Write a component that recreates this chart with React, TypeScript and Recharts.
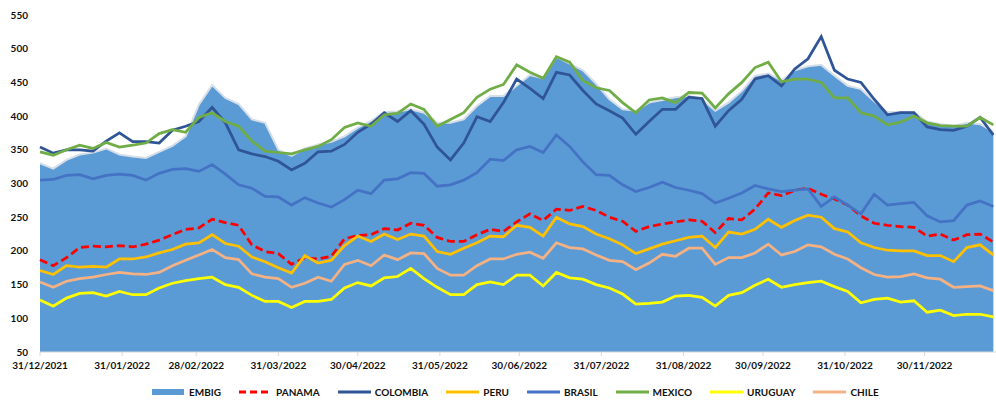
import React from 'react';
import { ComposedChart, Area, Line, XAxis, YAxis } from 'recharts';

// day offsets from 31/12/2021
const days = [
  0, 5, 10, 15, 20, 25, 30, 35, 40, 45, 50, 55, 60, 65, 70, 75, 80, 85, 90, 95,
  100, 105, 110, 115, 120, 125, 130, 135, 140, 145, 150, 155, 160, 165, 170, 175, 180, 185, 190, 195,
  200, 205, 210, 215, 220, 225, 230, 235, 240, 245, 250, 255, 260, 265, 270, 275, 280, 285, 290, 295,
  300, 305, 310, 315, 320, 325, 330, 335, 340, 345, 350, 355, 360,
];

const embig = [
  330, 322, 335, 343, 346, 352, 343, 340, 338, 347, 356, 370, 417, 446, 427, 418, 395, 390, 350, 341,
  352, 358, 362, 370, 383, 393, 406, 407, 410, 405, 390, 390, 395, 415, 430, 430, 445, 461, 456, 488,
  478, 468, 448, 425, 410, 408, 420, 424, 428, 430, 425, 408, 420, 437, 460, 463, 453, 468, 474, 476,
  460, 445, 440, 422, 406, 406, 406, 392, 388, 385, 390, 388, 377,
];
const panama = [
  187, 178, 190, 205, 207, 206, 208, 206, 210, 216, 224, 232, 234, 247, 242, 238, 209, 199, 196, 180,
  190, 188, 192, 218, 223, 224, 233, 231, 241, 238, 220, 214, 214, 224, 232, 229, 243, 255, 245, 262,
  260, 266, 260, 250, 244, 229, 236, 240, 243, 246, 244, 227, 248, 246, 262, 286, 282, 290, 293, 284,
  277, 268, 252, 241, 238, 236, 235, 222, 225, 216, 224, 225, 213,
];
const colombia = [
  354, 345, 350, 350, 348, 363, 375, 362, 362, 360, 379, 385, 392, 413, 390, 350, 344, 340, 333, 320,
  330, 347, 348, 358, 376, 388, 405, 392, 408, 388, 354, 335, 360, 399, 392, 420, 455, 441, 426, 465,
  461, 438, 418, 408, 397, 373, 392, 410, 410, 428, 426, 385, 408, 425, 455, 460, 445, 470, 485, 518,
  468, 455, 450, 425, 402, 405, 405, 384, 380, 379, 385, 398, 372,
];
const peru = [
  171, 165, 178, 176, 177, 176, 188, 188, 191, 197, 202, 210, 212, 224, 211, 207, 191, 184, 175, 167,
  193, 182, 186, 208, 222, 214, 225, 217, 225, 222, 199, 195, 204, 212, 222, 221, 238, 235, 222, 250,
  240, 236, 225, 218, 209, 196, 203, 210, 215, 220, 222, 205, 228, 225, 232, 247, 235, 245, 253, 250,
  233, 228, 212, 205, 201, 200, 200, 193, 193, 184, 205, 209, 194,
];
const brasil = [
  305, 306, 312, 313, 307, 312, 314, 312, 305, 315, 321, 322, 318, 328, 314, 298, 293, 281, 280, 268,
  279, 271, 265, 276, 290, 285, 305, 307, 316, 315, 296, 298, 305, 316, 336, 334, 350, 355, 346, 372,
  355, 332, 313, 312, 298, 288, 294, 302, 294, 290, 285, 271, 278, 286, 297, 292, 288, 290, 292, 266,
  280, 268, 255, 284, 268, 270, 272, 252, 243, 245, 268, 274, 266,
];
const mexico = [
  347, 342, 350, 357, 352, 361, 354, 357, 360, 374, 380, 376, 398, 405, 392, 385, 363, 348, 346, 344,
  350, 355, 365, 383, 390, 385, 402, 404, 418, 410, 385, 395, 405, 428, 440, 447, 476, 465, 456, 488,
  480, 453, 442, 438, 420, 405, 424, 427, 420, 435, 434, 412, 433, 450, 472, 480, 451, 455, 455, 450,
  427, 427, 405, 400, 387, 391, 400, 390, 386, 385, 385, 398, 387,
];
const uruguay = [
  127, 118, 130, 137, 138, 133, 140, 135, 135, 145, 152, 156, 159, 161, 150, 146, 134, 125, 125, 116,
  125, 125, 128, 145, 153, 148, 160, 162, 174, 159, 146, 135, 135, 150, 154, 150, 164, 164, 148, 168,
  160, 158, 150, 145, 136, 121, 122, 124, 133, 134, 131, 118, 134, 138, 149, 158, 146, 150, 153, 155,
  147, 140, 123, 128, 130, 124, 126, 109, 112, 104, 106, 106, 102,
];
const chile = [
  154, 146, 155, 159, 161, 165, 168, 166, 165, 168, 178, 186, 194, 202, 190, 187, 166, 161, 159, 146,
  152, 161, 155, 180, 186, 178, 194, 187, 197, 196, 174, 164, 164, 178, 188, 188, 195, 198, 189, 212,
  205, 203, 194, 186, 184, 172, 182, 195, 192, 204, 204, 180, 190, 190, 197, 210, 194, 199, 209, 206,
  195, 188, 175, 165, 161, 162, 166, 160, 158, 146, 147, 148, 141,
];

const tickDays = [0, 31, 59, 90, 120, 151, 181, 212, 243, 273, 304, 334];
const tickLabels = [
  '31/12/2021', '31/01/2022', '28/02/2022', '31/03/2022', '30/04/2022', '31/05/2022',
  '30/06/2022', '31/07/2022', '31/08/2022', '30/09/2022', '31/10/2022', '30/11/2022',
];
const yTicks = [50, 100, 150, 200, 250, 300, 350, 400, 450, 500, 550];

const data = days.map((day, i) => ({
  day,
  EMBIG: embig[i],
  PANAMA: panama[i],
  COLOMBIA: colombia[i],
  PERU: peru[i],
  BRASIL: brasil[i],
  MEXICO: mexico[i],
  URUGUAY: uruguay[i],
  CHILE: chile[i],
}));

const lines = [
  { key: 'PANAMA', color: '#FF0000', dash: '8 4' },
  { key: 'COLOMBIA', color: '#2F5597' },
  { key: 'PERU', color: '#FFC000' },
  { key: 'BRASIL', color: '#4472C4' },
  { key: 'MEXICO', color: '#70AD47' },
  { key: 'URUGUAY', color: '#FFFF00' },
  { key: 'CHILE', color: '#F4B183' },
];

const font = 'Lato, "Open Sans", sans-serif';
const tickStyle = { fontSize: 10, fontWeight: 700, fill: '#111', fontFamily: font };

function LegendRow() {
  return (
    <div
      style={{
        position: 'absolute',
        top: 386,
        left: 152,
        display: 'flex',
        alignItems: 'center',
        fontFamily: font,
        fontSize: 10,
        fontWeight: 700,
        color: '#111',
        whiteSpace: 'nowrap',
      }}
    >
      <div style={{ display: 'flex', alignItems: 'center', marginRight: 18 }}>
        <svg width={32} height={8} style={{ marginRight: 5 }}>
          <rect x={0} y={1} width={32} height={6} fill="#5B9BD5" />
        </svg>
        EMBIG
      </div>
      {lines.map((l) => (
        <div key={l.key} style={{ display: 'flex', alignItems: 'center', marginRight: 18 }}>
          <svg width={33} height={8} style={{ marginRight: 4 }}>
            <line
              x1={0}
              y1={4}
              x2={33}
              y2={4}
              stroke={l.color}
              strokeWidth={3}
              strokeDasharray={l.dash ? '7 4' : undefined}
            />
          </svg>
          {l.key}
        </div>
      ))}
    </div>
  );
}

export default function App() {
  return (
    <div style={{ position: 'absolute', left: 0, top: 0, width: 996, height: 400, background: '#fff' }}>
      <ComposedChart
        width={996}
        height={400}
        data={data}
        margin={{ top: 15, right: 0, bottom: 18, left: 0 }}
      >
        <XAxis
          dataKey="day"
          type="number"
          domain={[0, 361]}
          ticks={tickDays}
          tickFormatter={(v: number) => tickLabels[tickDays.indexOf(v)] ?? ''}
          interval={0}
          height={30}
          stroke="#D9D9D9"
          tickSize={4}
          tickMargin={6}
          tick={tickStyle}
        />
        <YAxis
          domain={[50, 550]}
          ticks={yTicks}
          interval={0}
          width={40}
          axisLine={false}
          tickLine={false}
          tickMargin={6}
          tick={tickStyle}
        />
        <Area
          dataKey="EMBIG"
          type="linear"
          fill="#5B9BD5"
          fillOpacity={1}
          stroke="#D6DEE8"
          strokeWidth={2}
          baseValue={50}
          isAnimationActive={false}
        />
        {lines.map((l) => (
          <Line
            key={l.key}
            dataKey={l.key}
            type="linear"
            stroke={l.color}
            strokeWidth={2.75}
            strokeDasharray={l.dash}
            dot={false}
            isAnimationActive={false}
          />
        ))}
      </ComposedChart>
      <LegendRow />
    </div>
  );
}
